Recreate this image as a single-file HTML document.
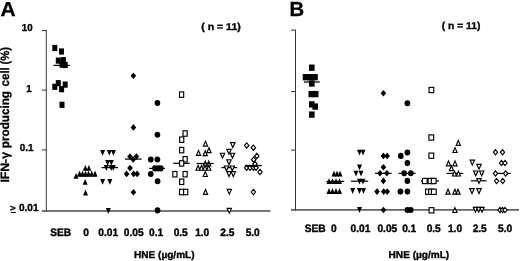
<!DOCTYPE html>
<html><head><meta charset="utf-8"><title>Figure</title>
<style>html,body{margin:0;padding:0;background:#fff;overflow:hidden}body{width:520px;height:261px}</style>
</head><body>
<svg width="520" height="261" viewBox="0 0 520 261" style="display:block;filter:blur(0.35px)">
<rect width="520" height="261" fill="#fff"/>
<g shape-rendering="geometricPrecision">
<rect x="45.8" y="30" width="1" height="181.6" fill="#383838"/>
<rect x="41.8" y="210.3" width="228.7" height="1.4" fill="#3c3c3c"/>
<rect x="42" y="30.0" width="4.5" height="1" fill="#383838"/>
<rect x="42" y="89.6" width="4.5" height="1" fill="#383838"/>
<rect x="42" y="149.4" width="4.5" height="1" fill="#383838"/>
<rect x="52.30" y="44.90" width="5" height="6.2" fill="#000"/>
<rect x="59.00" y="48.40" width="5" height="6.2" fill="#000"/>
<rect x="55.80" y="57.50" width="5" height="6.2" fill="#000"/>
<rect x="60.90" y="57.10" width="5" height="6.2" fill="#000"/>
<rect x="59.50" y="61.50" width="5" height="6.2" fill="#000"/>
<rect x="62.70" y="61.90" width="5" height="6.2" fill="#000"/>
<rect x="52.30" y="83.70" width="5" height="6.2" fill="#000"/>
<rect x="55.80" y="80.10" width="5" height="6.2" fill="#000"/>
<rect x="59.10" y="86.10" width="5" height="6.2" fill="#000"/>
<rect x="62.70" y="81.50" width="5" height="6.2" fill="#000"/>
<rect x="59.50" y="101.70" width="5" height="6.2" fill="#000"/>
<rect x="53.5" y="64.80" width="16.3" height="1.2" fill="#000"/>
<path d="M82.80 170.80L87.80 170.80L85.30 165.00Z" fill="#000"/>
<path d="M86.40 170.80L91.40 170.80L88.90 165.00Z" fill="#000"/>
<path d="M77.00 176.40L82.00 176.40L79.50 170.60Z" fill="#000"/>
<path d="M80.00 176.40L85.00 176.40L82.50 170.60Z" fill="#000"/>
<path d="M83.00 176.40L88.00 176.40L85.50 170.60Z" fill="#000"/>
<path d="M86.00 176.40L91.00 176.40L88.50 170.60Z" fill="#000"/>
<path d="M89.20 176.40L94.20 176.40L91.70 170.60Z" fill="#000"/>
<path d="M92.50 176.40L97.50 176.40L95.00 170.60Z" fill="#000"/>
<path d="M73.50 178.70L78.50 178.70L76.00 172.90Z" fill="#000"/>
<path d="M82.70 184.70L87.70 184.70L85.20 178.90Z" fill="#000"/>
<path d="M83.00 195.40L88.00 195.40L85.50 189.60Z" fill="#000"/>
<rect x="77.0" y="175.40" width="19.6" height="1.2" fill="#000"/>
<path d="M100.10 150.00L105.10 150.00L102.60 155.80Z" fill="#000"/>
<path d="M106.80 150.00L111.80 150.00L109.30 155.80Z" fill="#000"/>
<path d="M110.90 150.00L115.90 150.00L113.40 155.80Z" fill="#000"/>
<path d="M105.10 160.00L110.10 160.00L107.60 165.80Z" fill="#000"/>
<path d="M108.80 160.00L113.80 160.00L111.30 165.80Z" fill="#000"/>
<path d="M103.80 165.10L108.80 165.10L106.30 170.90Z" fill="#000"/>
<path d="M108.70 165.10L113.70 165.10L111.20 170.90Z" fill="#000"/>
<path d="M110.80 165.10L115.80 165.10L113.30 170.90Z" fill="#000"/>
<path d="M100.10 178.90L105.10 178.90L102.60 184.70Z" fill="#000"/>
<path d="M107.40 178.90L112.40 178.90L109.90 184.70Z" fill="#000"/>
<path d="M105.80 208.10L110.80 208.10L108.30 213.90Z" fill="#000"/>
<rect x="101.5" y="167.00" width="16.5" height="1.2" fill="#000"/>
<path d="M130.60 75.80L133.40 72.50L136.20 75.80L133.40 79.10Z" fill="#000"/>
<path d="M130.60 127.40L133.40 124.10L136.20 127.40L133.40 130.70Z" fill="#000"/>
<path d="M127.20 156.50L130.00 153.20L132.80 156.50L130.00 159.80Z" fill="#000"/>
<path d="M133.60 156.50L136.40 153.20L139.20 156.50L136.40 159.80Z" fill="#000"/>
<path d="M130.40 159.50L133.20 156.20L136.00 159.50L133.20 162.80Z" fill="#000"/>
<path d="M127.20 168.10L130.00 164.80L132.80 168.10L130.00 171.40Z" fill="#000"/>
<path d="M123.80 173.90L126.60 170.60L129.40 173.90L126.60 177.20Z" fill="#000"/>
<path d="M130.80 173.90L133.60 170.60L136.40 173.90L133.60 177.20Z" fill="#000"/>
<path d="M134.30 173.90L137.10 170.60L139.90 173.90L137.10 177.20Z" fill="#000"/>
<path d="M130.60 192.30L133.40 189.00L136.20 192.30L133.40 195.60Z" fill="#000"/>
<rect x="125.0" y="158.50" width="16.6" height="1.2" fill="#000"/>
<ellipse cx="157.4" cy="103.0" rx="2.85" ry="3.05" fill="#000"/>
<ellipse cx="157.4" cy="134.8" rx="2.85" ry="3.05" fill="#000"/>
<ellipse cx="150.8" cy="159.5" rx="2.85" ry="3.05" fill="#000"/>
<ellipse cx="157.4" cy="159.5" rx="2.85" ry="3.05" fill="#000"/>
<ellipse cx="154.9" cy="168.4" rx="2.85" ry="3.05" fill="#000"/>
<ellipse cx="158.0" cy="168.4" rx="2.85" ry="3.05" fill="#000"/>
<ellipse cx="160.8" cy="168.4" rx="2.85" ry="3.05" fill="#000"/>
<ellipse cx="150.8" cy="174.0" rx="2.85" ry="3.05" fill="#000"/>
<ellipse cx="157.6" cy="181.3" rx="2.85" ry="3.05" fill="#000"/>
<ellipse cx="157.5" cy="210.4" rx="2.85" ry="3.05" fill="#000"/>
<rect x="149.2" y="167.80" width="15.8" height="1.2" fill="#000"/>
<rect x="173.2" y="162.70" width="16.5" height="1.2" fill="#000"/>
<rect x="179.53" y="91.88" width="4.15" height="5.45" fill="#fff" stroke="#000" stroke-width="1.15"/>
<rect x="183.03" y="130.78" width="4.15" height="5.45" fill="#fff" stroke="#000" stroke-width="1.15"/>
<rect x="179.62" y="136.97" width="4.15" height="5.45" fill="#fff" stroke="#000" stroke-width="1.15"/>
<rect x="179.62" y="147.38" width="4.15" height="5.45" fill="#fff" stroke="#000" stroke-width="1.15"/>
<rect x="183.03" y="156.58" width="4.15" height="5.45" fill="#fff" stroke="#000" stroke-width="1.15"/>
<rect x="179.62" y="160.68" width="4.15" height="5.45" fill="#fff" stroke="#000" stroke-width="1.15"/>
<rect x="172.83" y="171.47" width="4.15" height="5.45" fill="#fff" stroke="#000" stroke-width="1.15"/>
<rect x="183.03" y="171.47" width="4.15" height="5.45" fill="#fff" stroke="#000" stroke-width="1.15"/>
<rect x="179.62" y="179.08" width="4.15" height="5.45" fill="#fff" stroke="#000" stroke-width="1.15"/>
<rect x="179.53" y="189.28" width="4.15" height="5.45" fill="#fff" stroke="#000" stroke-width="1.15"/>
<rect x="183.62" y="189.28" width="4.15" height="5.45" fill="#fff" stroke="#000" stroke-width="1.15"/>
<path d="M203.40 146.05L207.60 146.05L205.50 141.20Z" fill="#fff" stroke="#000" stroke-width="1.15" stroke-linejoin="miter"/>
<path d="M196.40 155.35L200.60 155.35L198.50 150.50Z" fill="#fff" stroke="#000" stroke-width="1.15" stroke-linejoin="miter"/>
<path d="M203.10 155.65L207.30 155.65L205.20 150.80Z" fill="#fff" stroke="#000" stroke-width="1.15" stroke-linejoin="miter"/>
<path d="M206.90 152.65L211.10 152.65L209.00 147.80Z" fill="#fff" stroke="#000" stroke-width="1.15" stroke-linejoin="miter"/>
<path d="M203.20 165.95L207.40 165.95L205.30 161.10Z" fill="#fff" stroke="#000" stroke-width="1.15" stroke-linejoin="miter"/>
<path d="M206.60 165.95L210.80 165.95L208.70 161.10Z" fill="#fff" stroke="#000" stroke-width="1.15" stroke-linejoin="miter"/>
<path d="M196.00 170.25L200.20 170.25L198.10 165.40Z" fill="#fff" stroke="#000" stroke-width="1.15" stroke-linejoin="miter"/>
<path d="M199.40 170.25L203.60 170.25L201.50 165.40Z" fill="#fff" stroke="#000" stroke-width="1.15" stroke-linejoin="miter"/>
<path d="M202.90 170.25L207.10 170.25L205.00 165.40Z" fill="#fff" stroke="#000" stroke-width="1.15" stroke-linejoin="miter"/>
<path d="M206.60 170.25L210.80 170.25L208.70 165.40Z" fill="#fff" stroke="#000" stroke-width="1.15" stroke-linejoin="miter"/>
<path d="M203.20 176.45L207.40 176.45L205.30 171.60Z" fill="#fff" stroke="#000" stroke-width="1.15" stroke-linejoin="miter"/>
<path d="M203.40 194.35L207.60 194.35L205.50 189.50Z" fill="#fff" stroke="#000" stroke-width="1.15" stroke-linejoin="miter"/>
<rect x="196.6" y="162.90" width="17.1" height="1.2" fill="#000"/>
<rect x="221.4" y="167.00" width="15.8" height="1.2" fill="#000"/>
<path d="M230.60 142.65L235.00 142.65L232.80 147.50Z" fill="#fff" stroke="#000" stroke-width="1.15" stroke-linejoin="miter"/>
<path d="M226.80 149.35L231.20 149.35L229.00 154.20Z" fill="#fff" stroke="#000" stroke-width="1.15" stroke-linejoin="miter"/>
<path d="M220.30 153.25L224.70 153.25L222.50 158.10Z" fill="#fff" stroke="#000" stroke-width="1.15" stroke-linejoin="miter"/>
<path d="M230.30 153.25L234.70 153.25L232.50 158.10Z" fill="#fff" stroke="#000" stroke-width="1.15" stroke-linejoin="miter"/>
<path d="M226.80 159.75L231.20 159.75L229.00 164.60Z" fill="#fff" stroke="#000" stroke-width="1.15" stroke-linejoin="miter"/>
<path d="M224.30 165.95L228.70 165.95L226.50 170.80Z" fill="#fff" stroke="#000" stroke-width="1.15" stroke-linejoin="miter"/>
<path d="M230.10 165.95L234.50 165.95L232.30 170.80Z" fill="#fff" stroke="#000" stroke-width="1.15" stroke-linejoin="miter"/>
<path d="M226.80 171.65L231.20 171.65L229.00 176.50Z" fill="#fff" stroke="#000" stroke-width="1.15" stroke-linejoin="miter"/>
<path d="M231.10 171.65L235.50 171.65L233.30 176.50Z" fill="#fff" stroke="#000" stroke-width="1.15" stroke-linejoin="miter"/>
<path d="M227.10 189.35L231.50 189.35L229.30 194.20Z" fill="#fff" stroke="#000" stroke-width="1.15" stroke-linejoin="miter"/>
<path d="M227.10 208.35L231.50 208.35L229.30 213.20Z" fill="#fff" stroke="#000" stroke-width="1.15" stroke-linejoin="miter"/>
<rect x="244.8" y="165.00" width="17.1" height="1.2" fill="#000"/>
<path d="M244.50 145.40L246.70 142.80L248.90 145.40L246.70 148.00Z" fill="#fff" stroke="#000" stroke-width="1.15"/>
<path d="M251.20 147.70L253.40 145.10L255.60 147.70L253.40 150.30Z" fill="#fff" stroke="#000" stroke-width="1.15"/>
<path d="M254.60 155.90L256.80 153.30L259.00 155.90L256.80 158.50Z" fill="#fff" stroke="#000" stroke-width="1.15"/>
<path d="M251.50 159.70L253.70 157.10L255.90 159.70L253.70 162.30Z" fill="#fff" stroke="#000" stroke-width="1.15"/>
<path d="M252.80 163.90L255.00 161.30L257.20 163.90L255.00 166.50Z" fill="#fff" stroke="#000" stroke-width="1.15"/>
<path d="M244.50 167.80L246.70 165.20L248.90 167.80L246.70 170.40Z" fill="#fff" stroke="#000" stroke-width="1.15"/>
<path d="M247.80 167.80L250.00 165.20L252.20 167.80L250.00 170.40Z" fill="#fff" stroke="#000" stroke-width="1.15"/>
<path d="M251.20 167.80L253.40 165.20L255.60 167.80L253.40 170.40Z" fill="#fff" stroke="#000" stroke-width="1.15"/>
<path d="M253.80 167.80L256.00 165.20L258.20 167.80L256.00 170.40Z" fill="#fff" stroke="#000" stroke-width="1.15"/>
<path d="M257.80 172.00L260.00 169.40L262.20 172.00L260.00 174.60Z" fill="#fff" stroke="#000" stroke-width="1.15"/>
<path d="M251.20 192.00L253.40 189.40L255.60 192.00L253.40 194.60Z" fill="#fff" stroke="#000" stroke-width="1.15"/>
<rect x="295" y="29.6" width="1" height="181" fill="#383838"/>
<rect x="291" y="209.2" width="228" height="1.4" fill="#3c3c3c"/>
<rect x="291" y="29.6" width="4.5" height="1" fill="#383838"/>
<rect x="291" y="91.1" width="4.5" height="1" fill="#383838"/>
<rect x="291" y="149.6" width="4.5" height="1" fill="#383838"/>
<rect x="309.00" y="64.55" width="5.6" height="6.3" fill="#000"/>
<rect x="302.70" y="74.05" width="5.6" height="6.3" fill="#000"/>
<rect x="307.20" y="74.05" width="5.6" height="6.3" fill="#000"/>
<rect x="312.20" y="74.05" width="5.6" height="6.3" fill="#000"/>
<rect x="309.00" y="80.35" width="5.6" height="6.3" fill="#000"/>
<rect x="308.50" y="90.95" width="5.6" height="6.3" fill="#000"/>
<rect x="312.90" y="90.95" width="5.6" height="6.3" fill="#000"/>
<rect x="309.00" y="101.25" width="5.6" height="6.3" fill="#000"/>
<rect x="312.40" y="103.45" width="5.6" height="6.3" fill="#000"/>
<rect x="309.00" y="111.45" width="5.6" height="6.3" fill="#000"/>
<rect x="304.0" y="81.40" width="15.8" height="1.2" fill="#000"/>
<path d="M331.50 176.50L336.50 176.50L334.00 170.70Z" fill="#000"/>
<path d="M334.50 176.50L339.50 176.50L337.00 170.70Z" fill="#000"/>
<path d="M337.50 176.50L342.50 176.50L340.00 170.70Z" fill="#000"/>
<path d="M326.50 184.10L331.50 184.10L329.00 178.30Z" fill="#000"/>
<path d="M330.00 184.10L335.00 184.10L332.50 178.30Z" fill="#000"/>
<path d="M333.50 184.10L338.50 184.10L336.00 178.30Z" fill="#000"/>
<path d="M337.00 184.10L342.00 184.10L339.50 178.30Z" fill="#000"/>
<path d="M326.50 193.90L331.50 193.90L329.00 188.10Z" fill="#000"/>
<path d="M330.00 193.90L335.00 193.90L332.50 188.10Z" fill="#000"/>
<path d="M333.50 193.90L338.50 193.90L336.00 188.10Z" fill="#000"/>
<path d="M337.00 193.90L342.00 193.90L339.50 188.10Z" fill="#000"/>
<rect x="326.5" y="180.80" width="17.7" height="1.2" fill="#000"/>
<path d="M357.00 149.70L362.00 149.70L359.50 155.50Z" fill="#000"/>
<path d="M360.50 149.70L365.50 149.70L363.00 155.50Z" fill="#000"/>
<path d="M357.00 164.60L362.00 164.60L359.50 170.40Z" fill="#000"/>
<path d="M353.50 170.70L358.50 170.70L356.00 176.50Z" fill="#000"/>
<path d="M358.50 170.70L363.50 170.70L361.00 176.50Z" fill="#000"/>
<path d="M357.00 178.70L362.00 178.70L359.50 184.50Z" fill="#000"/>
<path d="M360.50 178.70L365.50 178.70L363.00 184.50Z" fill="#000"/>
<path d="M350.20 188.10L355.20 188.10L352.70 193.90Z" fill="#000"/>
<path d="M357.00 188.10L362.00 188.10L359.50 193.90Z" fill="#000"/>
<path d="M361.00 188.10L366.00 188.10L363.50 193.90Z" fill="#000"/>
<path d="M357.00 207.10L362.00 207.10L359.50 212.90Z" fill="#000"/>
<rect x="351.0" y="180.60" width="17.2" height="1.2" fill="#000"/>
<path d="M380.60 93.30L383.40 90.00L386.20 93.30L383.40 96.60Z" fill="#000"/>
<path d="M380.60 155.90L383.40 152.60L386.20 155.90L383.40 159.20Z" fill="#000"/>
<path d="M384.40 155.90L387.20 152.60L390.00 155.90L387.20 159.20Z" fill="#000"/>
<path d="M380.60 167.20L383.40 163.90L386.20 167.20L383.40 170.50Z" fill="#000"/>
<path d="M377.20 173.30L380.00 170.00L382.80 173.30L380.00 176.60Z" fill="#000"/>
<path d="M384.00 173.30L386.80 170.00L389.60 173.30L386.80 176.60Z" fill="#000"/>
<path d="M380.60 180.90L383.40 177.60L386.20 180.90L383.40 184.20Z" fill="#000"/>
<path d="M374.20 191.60L377.00 188.30L379.80 191.60L377.00 194.90Z" fill="#000"/>
<path d="M380.90 191.60L383.70 188.30L386.50 191.60L383.70 194.90Z" fill="#000"/>
<path d="M384.40 191.60L387.20 188.30L390.00 191.60L387.20 194.90Z" fill="#000"/>
<path d="M380.60 210.00L383.40 206.70L386.20 210.00L383.40 213.30Z" fill="#000"/>
<rect x="375.0" y="172.70" width="16.6" height="1.2" fill="#000"/>
<ellipse cx="407.4" cy="103.2" rx="2.85" ry="3.05" fill="#000"/>
<ellipse cx="400.8" cy="155.9" rx="2.85" ry="3.05" fill="#000"/>
<ellipse cx="407.4" cy="152.5" rx="2.85" ry="3.05" fill="#000"/>
<ellipse cx="407.4" cy="163.1" rx="2.85" ry="3.05" fill="#000"/>
<ellipse cx="404.2" cy="173.3" rx="2.85" ry="3.05" fill="#000"/>
<ellipse cx="410.8" cy="173.3" rx="2.85" ry="3.05" fill="#000"/>
<ellipse cx="407.4" cy="180.9" rx="2.85" ry="3.05" fill="#000"/>
<ellipse cx="400.4" cy="191.6" rx="2.85" ry="3.05" fill="#000"/>
<ellipse cx="407.4" cy="191.6" rx="2.85" ry="3.05" fill="#000"/>
<ellipse cx="407.4" cy="210.0" rx="2.85" ry="3.05" fill="#000"/>
<ellipse cx="410.8" cy="210.0" rx="2.85" ry="3.05" fill="#000"/>
<rect x="398.5" y="172.70" width="17.1" height="1.2" fill="#000"/>
<rect x="421.0" y="180.40" width="18.0" height="1.2" fill="#000"/>
<rect x="429.02" y="87.38" width="4.75" height="5.25" fill="#fff" stroke="#000" stroke-width="1.15"/>
<rect x="428.93" y="134.88" width="4.75" height="5.25" fill="#fff" stroke="#000" stroke-width="1.15"/>
<rect x="428.93" y="153.07" width="4.75" height="5.25" fill="#fff" stroke="#000" stroke-width="1.15"/>
<rect x="422.43" y="178.38" width="4.75" height="5.25" fill="#fff" stroke="#000" stroke-width="1.15"/>
<rect x="428.12" y="178.38" width="4.75" height="5.25" fill="#fff" stroke="#000" stroke-width="1.15"/>
<rect x="431.32" y="178.38" width="4.75" height="5.25" fill="#fff" stroke="#000" stroke-width="1.15"/>
<rect x="425.62" y="189.18" width="4.75" height="5.25" fill="#fff" stroke="#000" stroke-width="1.15"/>
<rect x="428.62" y="189.18" width="4.75" height="5.25" fill="#fff" stroke="#000" stroke-width="1.15"/>
<rect x="431.43" y="189.18" width="4.75" height="5.25" fill="#fff" stroke="#000" stroke-width="1.15"/>
<rect x="429.12" y="207.68" width="4.75" height="5.25" fill="#fff" stroke="#000" stroke-width="1.15"/>
<rect x="446.6" y="172.80" width="16.5" height="1.2" fill="#000"/>
<path d="M456.20 145.35L460.40 145.35L458.30 140.50Z" fill="#fff" stroke="#000" stroke-width="1.15" stroke-linejoin="miter"/>
<path d="M452.90 152.45L457.10 152.45L455.00 147.60Z" fill="#fff" stroke="#000" stroke-width="1.15" stroke-linejoin="miter"/>
<path d="M446.40 165.85L450.60 165.85L448.50 161.00Z" fill="#fff" stroke="#000" stroke-width="1.15" stroke-linejoin="miter"/>
<path d="M452.90 165.85L457.10 165.85L455.00 161.00Z" fill="#fff" stroke="#000" stroke-width="1.15" stroke-linejoin="miter"/>
<path d="M449.30 170.65L453.50 170.65L451.40 165.80Z" fill="#fff" stroke="#000" stroke-width="1.15" stroke-linejoin="miter"/>
<path d="M452.40 175.95L456.60 175.95L454.50 171.10Z" fill="#fff" stroke="#000" stroke-width="1.15" stroke-linejoin="miter"/>
<path d="M456.30 175.95L460.50 175.95L458.40 171.10Z" fill="#fff" stroke="#000" stroke-width="1.15" stroke-linejoin="miter"/>
<path d="M445.90 194.15L450.10 194.15L448.00 189.30Z" fill="#fff" stroke="#000" stroke-width="1.15" stroke-linejoin="miter"/>
<path d="M452.80 194.15L457.00 194.15L454.90 189.30Z" fill="#fff" stroke="#000" stroke-width="1.15" stroke-linejoin="miter"/>
<path d="M455.90 194.15L460.10 194.15L458.00 189.30Z" fill="#fff" stroke="#000" stroke-width="1.15" stroke-linejoin="miter"/>
<path d="M452.80 212.45L457.00 212.45L454.90 207.60Z" fill="#fff" stroke="#000" stroke-width="1.15" stroke-linejoin="miter"/>
<rect x="470.8" y="180.20" width="15.8" height="1.2" fill="#000"/>
<path d="M470.10 160.15L474.50 160.15L472.30 165.00Z" fill="#fff" stroke="#000" stroke-width="1.15" stroke-linejoin="miter"/>
<path d="M476.80 164.35L481.20 164.35L479.00 169.20Z" fill="#fff" stroke="#000" stroke-width="1.15" stroke-linejoin="miter"/>
<path d="M473.50 170.95L477.90 170.95L475.70 175.80Z" fill="#fff" stroke="#000" stroke-width="1.15" stroke-linejoin="miter"/>
<path d="M479.50 170.95L483.90 170.95L481.70 175.80Z" fill="#fff" stroke="#000" stroke-width="1.15" stroke-linejoin="miter"/>
<path d="M476.80 178.55L481.20 178.55L479.00 183.40Z" fill="#fff" stroke="#000" stroke-width="1.15" stroke-linejoin="miter"/>
<path d="M469.80 188.65L474.20 188.65L472.00 193.50Z" fill="#fff" stroke="#000" stroke-width="1.15" stroke-linejoin="miter"/>
<path d="M476.80 188.65L481.20 188.65L479.00 193.50Z" fill="#fff" stroke="#000" stroke-width="1.15" stroke-linejoin="miter"/>
<path d="M473.30 207.35L477.70 207.35L475.50 212.20Z" fill="#fff" stroke="#000" stroke-width="1.15" stroke-linejoin="miter"/>
<path d="M476.50 207.35L480.90 207.35L478.70 212.20Z" fill="#fff" stroke="#000" stroke-width="1.15" stroke-linejoin="miter"/>
<path d="M479.80 207.35L484.20 207.35L482.00 212.20Z" fill="#fff" stroke="#000" stroke-width="1.15" stroke-linejoin="miter"/>
<rect x="493.0" y="172.80" width="17.7" height="1.2" fill="#000"/>
<path d="M493.40 152.20L495.50 149.60L497.60 152.20L495.50 154.80Z" fill="#fff" stroke="#000" stroke-width="1.15"/>
<path d="M500.40 152.20L502.50 149.60L504.60 152.20L502.50 154.80Z" fill="#fff" stroke="#000" stroke-width="1.15"/>
<path d="M499.40 163.00L501.50 160.40L503.60 163.00L501.50 165.60Z" fill="#fff" stroke="#000" stroke-width="1.15"/>
<path d="M502.90 163.00L505.00 160.40L507.10 163.00L505.00 165.60Z" fill="#fff" stroke="#000" stroke-width="1.15"/>
<path d="M493.40 173.40L495.50 170.80L497.60 173.40L495.50 176.00Z" fill="#fff" stroke="#000" stroke-width="1.15"/>
<path d="M503.50 173.40L505.60 170.80L507.70 173.40L505.60 176.00Z" fill="#fff" stroke="#000" stroke-width="1.15"/>
<path d="M494.50 181.00L496.60 178.40L498.70 181.00L496.60 183.60Z" fill="#fff" stroke="#000" stroke-width="1.15"/>
<path d="M500.60 181.00L502.70 178.40L504.80 181.00L502.70 183.60Z" fill="#fff" stroke="#000" stroke-width="1.15"/>
<path d="M497.90 210.00L500.00 207.40L502.10 210.00L500.00 212.60Z" fill="#fff" stroke="#000" stroke-width="1.15"/>
<path d="M500.40 210.00L502.50 207.40L504.60 210.00L502.50 212.60Z" fill="#fff" stroke="#000" stroke-width="1.15"/>
<path d="M502.90 210.00L505.00 207.40L507.10 210.00L505.00 212.60Z" fill="#fff" stroke="#000" stroke-width="1.15"/>
</g>
<g font-family="'Liberation Sans', Arial, sans-serif" font-weight="bold" fill="#000" text-rendering="geometricPrecision">
<text transform="translate(0.5,15.8) scale(1.07,1.03)" font-size="19.6" text-anchor="start" stroke="#000" stroke-width="0.3">A</text>
<text transform="translate(289.4,15.8) scale(1.035,1.04)" font-size="19.6" text-anchor="start" stroke="#000" stroke-width="0.3">B</text>
<text transform="translate(32.6,31.3) scale(1.0,1.04)" font-size="9.7" text-anchor="end" stroke="#000" stroke-width="0.35">10</text>
<text transform="translate(31.6,92.2) scale(1.0,1.04)" font-size="9.7" text-anchor="end" stroke="#000" stroke-width="0.35">1</text>
<text transform="translate(33.4,151.2) scale(1.02,1.04)" font-size="9.7" text-anchor="end" stroke="#000" stroke-width="0.35">0.1</text>
<text transform="translate(38.5,211.3) scale(1.02,1.04)" font-size="9.9" text-anchor="end" stroke="#000" stroke-width="0.35">0.01</text>
<text transform="translate(10.1,210.5) scale(1.0,0.92)" font-size="9.6" text-anchor="start" stroke="#000" stroke-width="0.35">&gt;</text>
<rect x="10.6" y="212" width="5.2" height="1" fill="#000"/>
<text transform="translate(201.3,29.7) scale(1.085,1.03)" font-size="9.7" text-anchor="start" stroke="#000" stroke-width="0.35">( n = 11)</text>
<text transform="translate(441.8,29.3) scale(1.06,1.03)" font-size="9.7" text-anchor="start" stroke="#000" stroke-width="0.35">( n = 11)</text>
<text transform="translate(60.6,235.8) scale(1.03,1.09)" font-size="9.9" text-anchor="middle" stroke="#000" stroke-width="0.35">SEB</text>
<text transform="translate(86.2,235.8) scale(1.03,1.09)" font-size="9.9" text-anchor="middle" stroke="#000" stroke-width="0.35">0</text>
<text transform="translate(108.2,235.8) scale(1.03,1.09)" font-size="9.9" text-anchor="middle" stroke="#000" stroke-width="0.35">0.01</text>
<text transform="translate(133.7,235.8) scale(1.03,1.09)" font-size="9.9" text-anchor="middle" stroke="#000" stroke-width="0.35">0.05</text>
<text transform="translate(156.1,235.8) scale(1.03,1.09)" font-size="9.9" text-anchor="middle" stroke="#000" stroke-width="0.35">0.1</text>
<text transform="translate(180.7,235.8) scale(1.03,1.09)" font-size="9.9" text-anchor="middle" stroke="#000" stroke-width="0.35">0.5</text>
<text transform="translate(202.2,235.8) scale(1.03,1.09)" font-size="9.9" text-anchor="middle" stroke="#000" stroke-width="0.35">1.0</text>
<text transform="translate(227.3,235.8) scale(1.03,1.09)" font-size="9.9" text-anchor="middle" stroke="#000" stroke-width="0.35">2.5</text>
<text transform="translate(252.7,235.8) scale(1.03,1.09)" font-size="9.9" text-anchor="middle" stroke="#000" stroke-width="0.35">5.0</text>
<text transform="translate(315.1,231.7) scale(1.03,1.09)" font-size="9.9" text-anchor="middle" stroke="#000" stroke-width="0.35">SEB</text>
<text transform="translate(333.8,231.7) scale(1.03,1.09)" font-size="9.9" text-anchor="middle" stroke="#000" stroke-width="0.35">0</text>
<text transform="translate(360.4,231.7) scale(1.03,1.09)" font-size="9.9" text-anchor="middle" stroke="#000" stroke-width="0.35">0.01</text>
<text transform="translate(387.3,231.7) scale(1.03,1.09)" font-size="9.9" text-anchor="middle" stroke="#000" stroke-width="0.35">0.05</text>
<text transform="translate(409.2,231.7) scale(1.03,1.09)" font-size="9.9" text-anchor="middle" stroke="#000" stroke-width="0.35">0.1</text>
<text transform="translate(433.7,231.7) scale(1.03,1.09)" font-size="9.9" text-anchor="middle" stroke="#000" stroke-width="0.35">0.5</text>
<text transform="translate(455,231.7) scale(1.03,1.09)" font-size="9.9" text-anchor="middle" stroke="#000" stroke-width="0.35">1.0</text>
<text transform="translate(479.7,231.7) scale(1.03,1.09)" font-size="9.9" text-anchor="middle" stroke="#000" stroke-width="0.35">2.5</text>
<text transform="translate(505.1,231.7) scale(1.03,1.09)" font-size="9.9" text-anchor="middle" stroke="#000" stroke-width="0.35">5.0</text>
<text transform="translate(164.3,257.5) scale(1.02,0.99)" font-size="9.9" text-anchor="middle" stroke="#000" stroke-width="0.35">HNE (µg/mL)</text>
<text transform="translate(418.9,257.5) scale(1.02,0.99)" font-size="9.9" text-anchor="middle" stroke="#000" stroke-width="0.35">HNE (µg/mL)</text>
<text transform="translate(9.3,182.6) rotate(-90)" font-size="12.1" textLength="30.6" lengthAdjust="spacingAndGlyphs" stroke="#000" stroke-width="0.3">IFN-γ</text>
<text transform="translate(9.3,148.2) rotate(-90)" font-size="12.1" textLength="57.2" lengthAdjust="spacingAndGlyphs" stroke="#000" stroke-width="0.3">producing</text>
<text transform="translate(9.3,86.4) rotate(-90)" font-size="12.1" textLength="19.2" lengthAdjust="spacingAndGlyphs" stroke="#000" stroke-width="0.3">cell</text>
<text transform="translate(9.3,64.5) rotate(-90)" font-size="12.1" textLength="17.6" lengthAdjust="spacingAndGlyphs" stroke="#000" stroke-width="0.3">(%)</text>
</g>
</svg>
</body></html>
